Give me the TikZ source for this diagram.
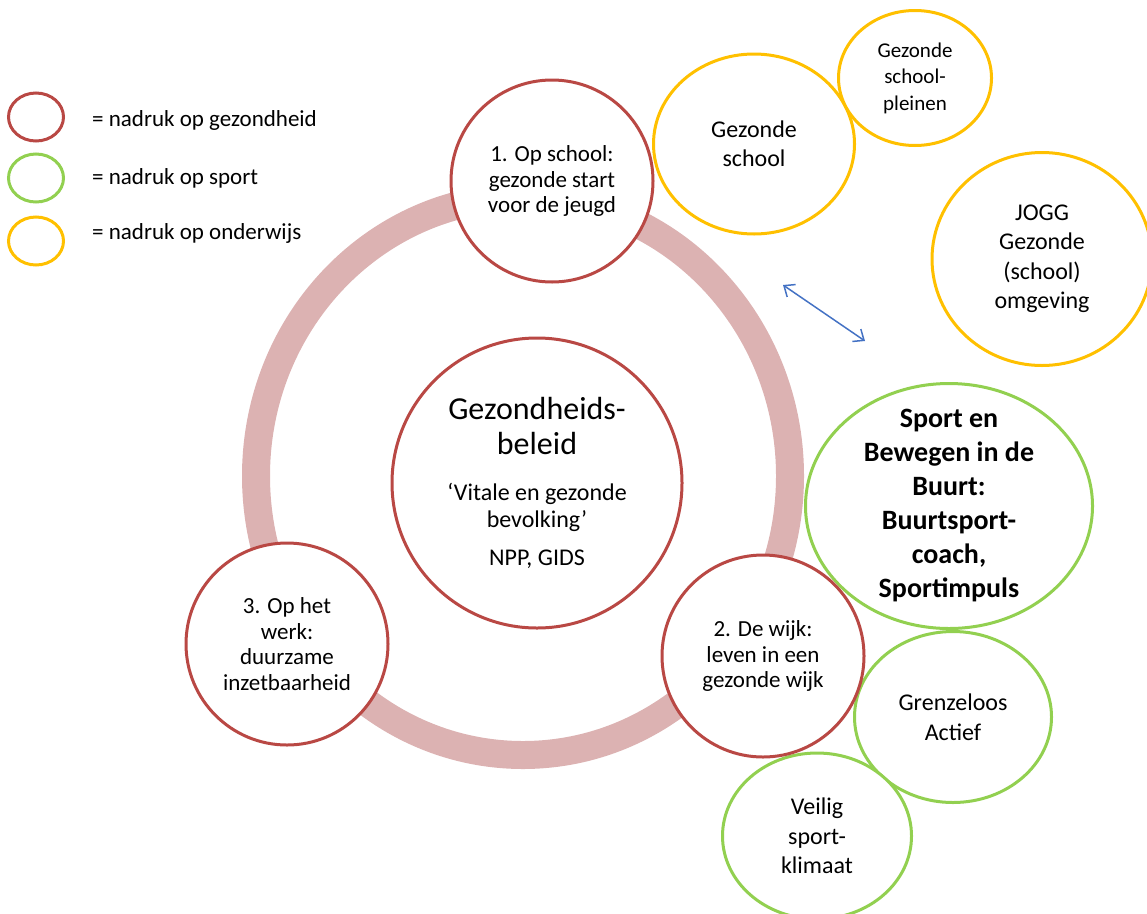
\documentclass[tikz,border=0pt]{standalone}
\usepackage{fontspec}
\setmainfont{Carlito}
\usetikzlibrary{shapes.geometric,positioning,arrows.meta}
\definecolor{gezred}{RGB}{185,72,68}
\definecolor{sportgreen}{RGB}{146,208,80}
\definecolor{onderwijsgold}{RGB}{255,192,0}
\definecolor{ringpink}{RGB}{220,178,178}
\definecolor{arrowblue}{RGB}{68,114,196}
\begin{document}
\begin{tikzpicture}[x=1pt, y=-1pt, node distance=27pt,
	stage/.style={circle, draw=gezred, fill=white, line width=3pt, inner sep=0pt, minimum size=202pt, align=center, font=\fontsize{23}{25.5}\selectfont},
	bubble/.style={ellipse, fill=white, line width=3pt, inner sep=0pt, align=center, font=\fontsize{24}{29.5}\selectfont},
	legendmark/.style={ellipse, line width=3pt, minimum width=55pt, minimum height=48pt},
	legendtext/.style={inner sep=0pt, font=\fontsize{23}{27}\selectfont}]
		\useasboundingbox (0,0) rectangle (1147,913);
		
		\node[legendmark, draw=gezred]        (keygez)  at (36,117)   {};
		\node[legendmark, draw=sportgreen]    (keysport) at (36,178)  {};
		\node[legendmark, draw=onderwijsgold] (keyond)  at (36,241)   {};
		\node[legendtext, right=of keygez, yshift=-3pt]  (keygeztext)   {= nadruk op gezondheid};
		\node[legendtext, right=of keysport]            (keysporttext) {= nadruk op sport};
		\node[legendtext, right=of keyond, yshift=8pt]  (keyondtext)   {= nadruk op onderwijs};
		
		\draw[ringpink, line width=28pt] (523,476) ellipse [x radius=267, y radius=279];
		
		\node[bubble, draw=onderwijsgold, minimum width=201pt, minimum height=180pt] (gezschool) at (754,144) {Gezonde\\school};
		\node[bubble, draw=onderwijsgold, minimum width=153pt, minimum height=135pt, font=\fontsize{21}{26.5}\selectfont] (pleinen) at (915,78) {Gezonde\\school-\\pleinen};
		\node[bubble, draw=onderwijsgold, minimum width=220pt, minimum height=213pt] (jogg) at (1042,259) {JOGG\\Gezonde\\(school)\\omgeving};
		\node[bubble, draw=sportgreen, minimum width=287pt, minimum height=245pt, inner sep=-20pt, font=\fontsize{28}{34}\selectfont\bfseries] (buurt) at (949,506) {Sport en\\Bewegen in de\\Buurt:\\Buurtsport-\\coach,\\Sportimpuls};
		\node[bubble, draw=sportgreen, minimum width=197pt, minimum height=171pt] (grenzeloos) at (953,717) {Grenzeloos\\Actief};
		\node[bubble, draw=sportgreen, minimum width=189pt, minimum height=166pt] (veilig) at (817,836) {Veilig\\sport-\\klimaat};
		
		\node[stage] (school) at (552,181) {1. Op school:\\gezonde start\\voor de jeugd};
		\node[stage] (wijk)   at (763,656) {2. De wijk:\\leven in een\\gezonde wijk};
		\node[stage] (werk)   at (287,644) {3. Op het\\werk:\\duurzame\\inzetbaarheid};
		\node[stage, minimum size=290pt, font=\fontsize{24}{27}\selectfont] (beleid) at (537,483)
			{{\fontsize{32}{34}\selectfont Gezondheids-}\\[8pt]{\fontsize{32}{34}\selectfont beleid}\\[19pt]‘Vitale en gezonde\\bevolking’\\[11pt]NPP, GIDS};
		
		\coordinate (arrtop) at (783,285);
		\coordinate (arrbot) at (865,341);
		\draw[{Straight Barb[length=9pt,width=15pt]}-{Straight Barb[length=9pt,width=15pt]}, arrowblue, line width=1.5pt] (arrtop) -- (arrbot);
	\end{tikzpicture}
\end{document}
